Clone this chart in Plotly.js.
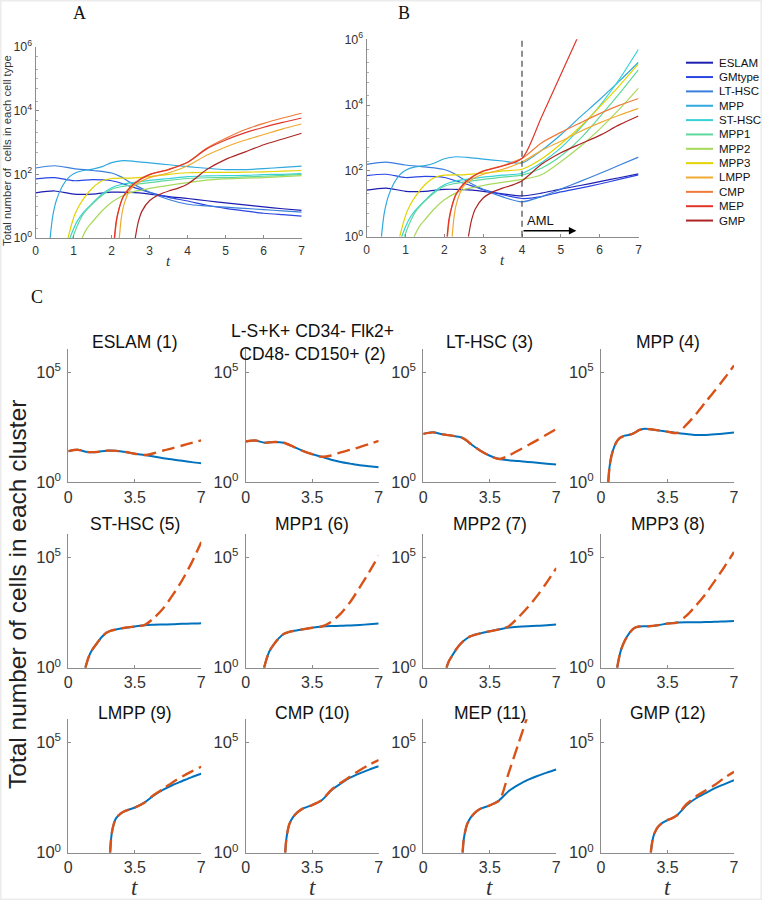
<!DOCTYPE html>
<html><head><meta charset="utf-8">
<script src="https://cdn.plot.ly/plotly-3.0.1.min.js"></script>
<style>html,body{margin:0;padding:0;background:#fff;} #chart{width:762px;height:900px;}</style>
</head><body><div id="chart"></div>
<script>
// ---------------- DATA ----------------
const cellTypes = ['ESLAM','GMtype','LT-HSC','MPP','ST-HSC','MPP1','MPP2','MPP3','LMPP','CMP','MEP','GMP'];
const panelCTitles = ['ESLAM (1)','L-S+K+ CD34- Flk2+<br>CD48- CD150+ (2)','LT-HSC (3)','MPP (4)','ST-HSC (5)','MPP1 (6)','MPP2 (7)','MPP3 (8)','LMPP (9)','CMP (10)','MEP (11)','GMP (12)'];
const typeColors = ['#1d1db0','#2b45e2','#3a7fdc','#2fa9de','#36d2d6','#5fd89c','#a6d95c','#e2d400','#f0aa32','#ef7b3b','#e0362a','#ad2424'];
const amlStart = 4;
const amlArrowEnd = 5.4;
const tickA = [0,1,2,3,4,5,6,7];
const tickC = [0,3.5,7];

// time grid used by several series
const gridT = [0,0.5,1,1.5,2,2.5,3,3.5,4,4.5,5,5.5,6,6.5,7];
const amlT  = [4.5,5,5.5,6,6.5,7];

// normal (blue / panel A) and AML (dashed / panel B) cell counts
const eslamN  = [26,30,24,24,27.5,27,24,20,17.4,14.8,12.6,11,9.5,8.3,7.4];
const eslamA  = [21,28,36,47,62,81];

const gmtypeN = [72,79,63,68,63,42,27,19,14.5,10.7,8.5,7.1,6.0,5.4,4.9];
const gmtypeA = [16.6,23,30,40,55,76];

const lthscT  = [0,0.5,1,1.5,2,2.25,2.5,3,3.5,4,4.5,5,5.5,6,6.5,7];
const lthscN  = [158,186,151,132,110,83,55,27.5,16.2,11.5,10.2,9.3,8.5,7.8,7.1,6.5];
const lthscA  = [16.6,28,48,83,148,263];

const mppT    = [0.38,0.45,0.55,0.7,0.85,1,1.25,1.5,1.75,2,2.3,2.6,3,3.5,4,4.5,5,5.5,6,6.5,7];
const mppN    = [1,5,16,42,76,105,132,145,174,234,269,257,229,200,174,155,141,141,151,166,182];
const mppA    = [417,1260,4370,14800,52500,200000];

const sthscT  = [0.9,1,1.1,1.25,1.5,1.75,2,2.25,2.5,3,3.5,4,4.5,5,5.5,6,6.5,7];
const sthscN  = [1,2,3.5,6.3,12.6,24,38,48,54,65,74,85,89,91,93,98,100,105];
const sthscA  = [178,500,2000,9500,60000,500000];

const mpp1T   = [0.97,1.1,1.25,1.5,1.75,2,2.25,2.5,3,3.5,4,4.5,5,5.5,6,6.5,7];
const mpp1N   = [1,2.5,5.6,12,22,34,41,46,55,65,74,78,79,83,87,93,100];
const mpp1A   = [120,282,955,4370,21900,120000];

const mpp2T   = [1.22,1.35,1.5,1.75,2,2.25,2.5,3,3.5,4,4.5,5,5.5,6,6.5,7];
const mpp2N   = [1,2,3.3,7.2,13.2,20,27,36,45,55,66,72,76,79,85,91];
const mpp2A   = [76,191,550,1860,7400,33000];

const mpp3T   = [0.85,0.95,1.05,1.25,1.5,1.75,2,2.5,3,3.5,4,4.5,5,5.5,6,6.5,7];
const mpp3N   = [1,2.8,6.3,16.6,38,63,74,76,85,100,112,115,115,117,120,126,132];
const mpp3A   = [229,660,2190,8900,38000,178000];

const lmppT   = [2.2,2.25,2.3,2.4,2.5,2.75,3,3.5,4,4.5,5,5.5,6,6.5,7];
const lmppN   = [1,4,8.9,21,35,59,79,112,186,398,724,1175,1780,2690,3800];
const lmppA   = [417,794,1585,2880,4900,7940];

const cmpT    = [2.08,2.13,2.2,2.3,2.5,2.75,3,3.5,4,4.5,5,5.5,6,6.5,7];
const cmpN    = [1,3.5,8.9,20,42,71,100,145,240,660,1350,2510,3980,5890,8320];
const cmpA    = [708,1480,2880,5500,9770,15850];

const mepT    = [2.07,2.12,2.2,2.3,2.5,2.75,3,3.5,4,4.5,5,5.5,6,6.5,7];
const mepN    = [1,3.5,8.9,19,40,69,98,141,240,631,1200,2000,3020,4270,5890];
const mepAT   = [4.5,5,5.5];
const mepA    = [4300,85000,1700000];

const gmpT    = [2.62,2.7,2.8,3,3.25,3.5,3.75,4,4.25,4.5,5,5.5,6,6.5,7];
const gmpN    = [1,3.2,7.1,15,23,30,37,50,83,141,295,500,850,1290,1950];
const gmpA    = [158,355,660,1200,2500,4680];

const series = [
  [gridT, eslamN, amlT, eslamA],
  [gridT, gmtypeN, amlT, gmtypeA],
  [lthscT, lthscN, amlT, lthscA],
  [mppT, mppN, amlT, mppA],
  [sthscT, sthscN, amlT, sthscA],
  [mpp1T, mpp1N, amlT, mpp1A],
  [mpp2T, mpp2N, amlT, mpp2A],
  [mpp3T, mpp3N, amlT, mpp3A],
  [lmppT, lmppN, amlT, lmppA],
  [cmpT, cmpN, amlT, cmpA],
  [mepT, mepN, mepAT, mepA],
  [gmpT, gmpN, amlT, gmpA]
];

// ---------------- LAYOUT HELPERS ----------------
const W = 762, H = 900;
const fx = p => p / W;
const fy = p => 1 - p / H;
const SANS = 'Liberation Sans, Arial, Helvetica, sans-serif';
const SERIF = 'Liberation Serif, Times New Roman, serif';
const AX = '#8c8c8c', TXT = '#333333';
const BLUE = '#0072BD', ORANGE = '#D95319';

function amlSeries(s) {
  const [tn, yn, ta, ya] = s;
  const x = [], y = [];
  for (let k = 0; k < tn.length; k++) if (tn[k] <= amlStart) { x.push(tn[k]); y.push(yn[k]); }
  return { x: x.concat(ta), y: y.concat(ya) };
}

const traces = [];
// Panel A
series.forEach((s, i) => {
  traces.push({ x: s[0], y: s[1], type: 'scatter', mode: 'lines', name: cellTypes[i],
    xaxis: 'x', yaxis: 'y', line: { color: typeColors[i], width: 1.2, shape: 'spline', smoothing: 0.8 },
    showlegend: false, hoverinfo: 'skip' });
});
// Panel B
series.forEach((s, i) => {
  const a = amlSeries(s);
  traces.push({ x: a.x, y: a.y, type: 'scatter', mode: 'lines', name: cellTypes[i],
    xaxis: 'x2', yaxis: 'y2', line: { color: typeColors[i], width: 1.2, shape: 'spline', smoothing: 0.8 },
    showlegend: false, hoverinfo: 'skip' });
});
// Panel C
series.forEach((s, i) => {
  const n = i + 3;
  const a = amlSeries(s);
  traces.push({ x: s[0], y: s[1], type: 'scatter', mode: 'lines', name: cellTypes[i] + ' normal',
    xaxis: 'x' + n, yaxis: 'y' + n, line: { color: BLUE, width: 2, shape: 'spline', smoothing: 0.8 },
    showlegend: false, hoverinfo: 'skip' });
  traces.push({ x: a.x, y: a.y, type: 'scatter', mode: 'lines', name: cellTypes[i] + ' AML',
    xaxis: 'x' + n, yaxis: 'y' + n, line: { color: ORANGE, width: 2.4, dash: '13px,6px', shape: 'spline', smoothing: 0.8 },
    showlegend: false, hoverinfo: 'skip' });
});

const baseAxis = { showline: true, linecolor: AX, linewidth: 1, ticks: 'inside', tickcolor: AX, ticklen: 3,
  showgrid: false, zeroline: false, mirror: false, fixedrange: true };
const supTicks = v => v.map(e => '10<sup>' + e + '</sup>');

const annot = (text, xp, yp, size, family, extra) => Object.assign({ text: text, x: fx(xp), y: fy(yp), xref: 'paper', yref: 'paper',
  showarrow: false, xanchor: 'center', yanchor: 'middle', font: { family: family || SANS, size: size, color: '#111' } }, extra || {});

const layout = {
  width: W, height: H, margin: { l: 0, r: 0, t: 0, b: 0 }, paper_bgcolor: '#fff', plot_bgcolor: 'rgba(0,0,0,0)',
  font: { family: SANS, color: TXT },
  showlegend: false,
  xaxis: Object.assign({}, baseAxis, { domain: [fx(35.7), fx(301.7)], anchor: 'y', range: [0, 7], tickvals: tickA,
    tickfont: { size: 12, color: TXT }, ticklabelstandoff: 2 }),
  yaxis: Object.assign({}, baseAxis, { domain: [fy(238), fy(47)], anchor: 'x', type: 'log', range: [0, 6],
    tickvals: [1, 1e2, 1e4, 1e6], ticktext: supTicks([0, 2, 4, 6]), tickfont: { size: 12.5, color: TXT },
    minor: { ticks: 'inside', ticklen: 2, tickcolor: '#b0b0b0' } }),
  xaxis2: Object.assign({}, baseAxis, { domain: [fx(366.7), fx(638.5)], anchor: 'y2', range: [0, 7], tickvals: tickA,
    tickfont: { size: 12, color: TXT }, ticklabelstandoff: 2 }),
  yaxis2: Object.assign({}, baseAxis, { domain: [fy(236.7), fy(39.3)], anchor: 'x2', type: 'log', range: [0, 6],
    tickvals: [1, 1e2, 1e4, 1e6], ticktext: supTicks([0, 2, 4, 6]), tickfont: { size: 12.5, color: TXT },
    minor: { ticks: 'inside', ticklen: 2, tickcolor: '#b0b0b0' } }),
  shapes: [
    { type: 'line', xref: 'x2', yref: 'y2 domain', x0: amlStart, x1: amlStart, y0: 0, y1: 1,
      line: { color: '#444', width: 1.2, dash: '6px,4px' } },
    { type: 'rect', xref: 'paper', yref: 'paper', x0: 0, x1: 1, y0: 0, y1: 1, line: { color: '#ececec', width: 3 } }
  ],
  annotations: [
    annot('A', 79, 13, 18, SERIF),
    annot('B', 404, 13, 18, SERIF),
    annot('C', 37, 297, 18, SERIF),
    annot('Total number of  cells in each cell type', 7, 151, 11.3, SANS, { textangle: -90, font: { family: SANS, size: 11.3, color: TXT } }),
    annot('<i>t</i>', 168.7, 261, 15, SERIF, { font: { family: SERIF, size: 15, color: TXT } }),
    annot('<i>t</i>', 502.6, 260, 15, SERIF, { font: { family: SERIF, size: 15, color: TXT } }),
    { text: 'AML', x: 4.48, y: 0.48, xref: 'x2', yref: 'y2', showarrow: false, xanchor: 'center', yanchor: 'middle',
      font: { family: SANS, size: 13, color: '#111' } },
    { text: '', x: amlArrowEnd, y: 0.18, xref: 'x2', yref: 'y2', ax: amlStart, ay: 0.18, axref: 'x2', ayref: 'y2',
      showarrow: true, arrowhead: 2, arrowsize: 1, arrowwidth: 1.5, arrowcolor: '#000' },
    annot('Total number of cells in each cluster', 17, 595, 24.5, SANS, { textangle: -90, font: { family: SANS, size: 24.5, color: '#222' } })
  ]
};

// manual legend (compact rows as in the reference)
const legRow0 = 62.7, legStep = 14.35;
cellTypes.forEach((name, i) => {
  const yy = legRow0 + legStep * i;
  layout.shapes.push({ type: 'line', xref: 'paper', yref: 'paper', x0: fx(686), x1: fx(713), y0: fy(yy), y1: fy(yy),
    line: { color: typeColors[i], width: 2 } });
  layout.annotations.push(annot(name, 717, yy, 11.5, SANS, { xanchor: 'left' }));
});

const colLeft = [68.3, 245.7, 423.3, 601];
const rowTop = [349, 534.3, 719.3];
const titleY = [342, 523.5, 712.5];
const cw = 133, ch = 133.4;
for (let i = 0; i < 12; i++) {
  const r = Math.floor(i / 4), c = i % 4, n = i + 3;
  layout['xaxis' + n] = Object.assign({}, baseAxis, { domain: [fx(colLeft[c]), fx(colLeft[c] + cw)], anchor: 'y' + n,
    range: [0, 7], tickvals: tickC, ticktext: ['0', '3.5', '7'], tickfont: { size: 16, color: TXT } });
  layout['yaxis' + n] = Object.assign({}, baseAxis, { domain: [fy(rowTop[r] + ch), fy(rowTop[r])], anchor: 'x' + n,
    type: 'log', range: [0, 6.05], tickvals: [1, 1e5], ticktext: supTicks([0, 5]), tickfont: { size: 16.5, color: TXT },
    ticklabelstandoff: 3 });
  layout.annotations.push(annot(panelCTitles[i], colLeft[c] + cw / 2, titleY[r], 17.5, SANS));
  if (r === 2) {
    layout.annotations.push(annot('<i>t</i>', colLeft[c] + cw / 2, 887, 23, SERIF, { font: { family: SERIF, size: 23, color: TXT } }));
  }
}

Plotly.newPlot('chart', traces, layout, { displayModeBar: false, staticPlot: true });
</script>
</body></html>
